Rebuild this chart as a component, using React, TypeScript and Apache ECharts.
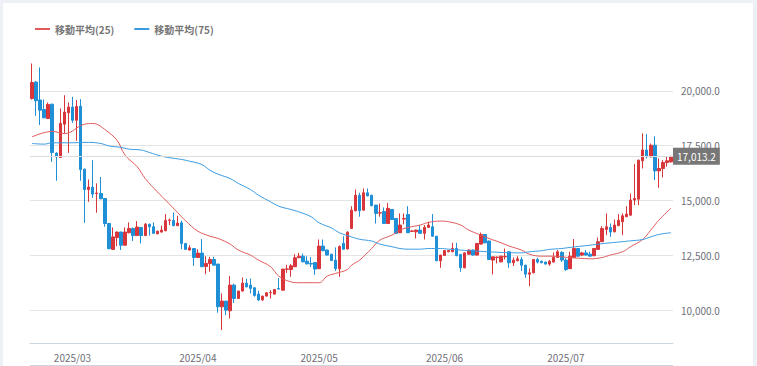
import React, { useEffect, useRef } from 'react';
import * as echarts from 'echarts';

// First trading day shown (2025/02/19); one candle per calendar day
const firstDay = { y: 2025, m: 2, d: 19 };

const opens = [
  19650, 20400, 19580, 19150, 18740, 19390, 17160, 16960, 18480, 19000,
  19260, 18660, 19300, 16430, 15500, 15610, 15320, 15320, 15090, 13950,
  12770, 13310, 13560, 12960, 13530, 13720, 13400, 13770, 13400, 13920,
  13800, 13480, 13560, 13620, 14090, 14090, 13850, 13980, 13040, 12740,
  12810, 12400, 12600, 11990, 12130, 12310, 12100, 10150, 10410, 9970,
  11140, 10530, 10870, 11230, 11140, 11020, 10730, 10470, 10640, 10790,
  10730, 10990, 10910, 11860, 11850, 11980, 12390, 12460, 12230, 12130,
  12170, 11890, 12920, 12740, 12550, 12280, 11880, 13050, 12790, 13720,
  14530, 15240, 14560, 15350, 15240, 14790, 14430, 14500, 13950, 14590,
  14180, 13530, 14150, 14360, 13590, 13570, 13650, 13500, 13770, 13800,
  13370, 12250, 12490, 12660, 12660, 12810, 12540, 11930, 12550, 12740,
  12510, 13010, 13450, 13150, 12280, 12400, 12200, 12430, 12660, 12160,
  12250, 12310, 12050, 11640, 11700, 12310, 12230, 12190, 12100, 12190,
  12400, 12630, 12280, 11890, 12400, 12810, 12510, 12610, 12550, 12480,
  12770, 13120, 13680, 13770, 13570, 13850, 14030, 14260, 14330, 15020,
  15060, 16810, 17300, 16990, 17520, 16350, 16460, 16730, 16760,
];

const closes = [
  20380, 19550, 19120, 18770, 19380, 17190, 16990, 18510, 19030, 19260,
  18660, 19290, 16410, 15500, 15610, 15290, 15340, 15080, 13950, 12800,
  13340, 13560, 12960, 13560, 13720, 13400, 13790, 13400, 13920, 13800,
  13500, 13600, 13650, 14090, 14110, 13850, 13970, 13040, 12770, 12840,
  12400, 12600, 11980, 12130, 12310, 12050, 10150, 10410, 10000, 11140,
  10530, 10870, 11230, 11060, 10990, 10670, 10460, 10640, 10790, 10800,
  10940, 10960, 11870, 11880, 12020, 12390, 12460, 12200, 12110, 12100,
  11870, 12920, 12710, 12510, 12260, 11890, 12900, 12780, 13550, 14560,
  15240, 14530, 15350, 15210, 14760, 14410, 14440, 13950, 14640, 14130,
  13500, 13880, 14180, 13530, 13610, 13650, 13500, 13770, 13880, 13370,
  12250, 12510, 12720, 12720, 12810, 12480, 11930, 12610, 12740, 12510,
  13040, 13450, 13070, 12310, 12430, 12420, 12460, 12450, 12160, 12280,
  12340, 12050, 11640, 11700, 12310, 12190, 12160, 12100, 12230, 12400,
  12660, 12280, 11850, 12460, 12810, 12460, 12610, 12510, 12460, 12810,
  13120, 13720, 13800, 13560, 13880, 14100, 14300, 14380, 15020, 15090,
  16840, 17300, 16990, 17520, 16350, 16460, 16730, 16810, 17013.2,
];

const lows = [
  19600, 18860, 18440, 18750, 18710, 16760, 15900, 16940, 18060, 17170,
  18540, 17720, 15900, 13980, 14940, 15120, 14440, 15050, 13800, 12780,
  12740, 12920, 12740, 12940, 13500, 13150, 13380, 13040, 13380, 13400,
  13480, 13460, 13540, 13600, 13880, 13830, 13830, 12780, 12740, 12720,
  12020, 12380, 11960, 11640, 11750, 12030, 9880, 9090, 9770, 9620,
  10330, 10510, 10850, 11040, 10760, 10610, 10430, 10410, 10620, 10530,
  10710, 10940, 10880, 11700, 11520, 11960, 12370, 12180, 12090, 11960,
  11610, 11870, 12690, 12490, 12240, 11790, 11520, 12760, 12770, 13700,
  14510, 14260, 14540, 15190, 14740, 13950, 14260, 13930, 13930, 14110,
  13480, 13510, 13910, 13510, 13570, 13270, 13480, 13220, 13750, 13350,
  12230, 11930, 12470, 12640, 12640, 12460, 11750, 11910, 12530, 12490,
  12490, 12990, 13050, 12290, 11630, 12130, 12180, 12310, 11930, 12010,
  12230, 11780, 11470, 11090, 11680, 12130, 12140, 12080, 12020, 12170,
  12380, 12200, 11790, 11870, 12380, 12440, 12460, 12490, 12440, 12460,
  12750, 13100, 13420, 13340, 13550, 13830, 13420, 14240, 14310, 14790,
  14790, 16460, 16920, 16970, 15930, 15580, 16050, 16540, 16740,
];

const highs = [
  21250, 20450, 21070, 19610, 19470, 19420, 17200, 19200, 19800, 19470,
  19730, 19580, 19620, 16450, 15960, 16840, 15780, 16070, 15100, 13970,
  13770, 13580, 13580, 13770, 14000, 13770, 14060, 13790, 13970, 13940,
  14000, 13620, 13850, 14380, 14180, 14450, 14300, 14080, 13060, 12960,
  12830, 12780, 13240, 12460, 12430, 12430, 12110, 10760, 10420, 11550,
  11200, 10880, 11490, 11430, 11440, 11030, 10880, 10650, 10820, 10910,
  10950, 11460, 11880, 12070, 12100, 12550, 12610, 12580, 12460, 12420,
  12190, 13220, 13220, 12760, 12570, 12860, 12950, 13370, 13600, 14740,
  15500, 15350, 15550, 15550, 15260, 14800, 14860, 14680, 14890, 14610,
  14200, 14410, 14410, 14740, 13650, 13670, 13880, 13880, 14030, 14380,
  13390, 12520, 12740, 12740, 13070, 13070, 12560, 12630, 12760, 12760,
  13060, 13540, 13470, 13170, 12450, 12440, 12480, 12810, 12690, 12400,
  12460, 12430, 12070, 11900, 12330, 12390, 12250, 12210, 12280, 12630,
  12740, 12690, 12360, 12660, 13240, 12830, 12660, 12740, 12660, 12830,
  13310, 13830, 14410, 13950, 14130, 14380, 14410, 14740, 15320, 16660,
  16860, 18060, 18030, 17600, 17930, 16920, 16840, 17020, 17030,
];

// Moving averages (candle index -> value)
const ma25Index = [
  0, 5, 8, 13, 15, 16, 18, 21, 23, 26, 28, 31, 33, 36, 38, 41, 44, 46, 49, 51,
  54, 56, 59, 61, 64, 66, 69, 71, 73, 75, 78, 79, 81, 84, 86, 89, 91, 93, 96, 98,
  101, 103, 106, 108, 111, 113, 116, 118, 121, 123, 126, 128, 131, 133, 136, 138, 141, 143, 146, 148,
  151, 153, 155, 158,
];
const ma25Values = [
  17900, 18150, 18050, 18480, 18510, 18480, 18240, 17750, 17070, 16540,
  16000, 15390, 15020, 14450, 14070, 13600, 13370, 13270, 13010, 12740,
  12510, 12280, 11980, 11550, 11290, 11250, 11250, 11250, 11550, 11670,
  11850, 12050, 12280, 12810, 13190, 13420, 13650, 13770, 13880, 14000,
  14060, 14030, 13880, 13650, 13420, 13270, 13070, 12920, 12740, 12550,
  12460, 12460, 12430, 12390, 12360, 12340, 12400, 12510, 12660, 12890,
  13220, 13650, 14100, 14650,
];

const ma75Index = [
  0, 3, 5, 9, 14, 17, 19, 22, 24, 27, 29, 32, 34, 37, 39, 42, 44, 46, 49, 51,
  54, 56, 59, 61, 64, 66, 69, 71, 74, 76, 79, 81, 84, 86, 89, 91, 93, 96, 98, 101,
  103, 106, 108, 111, 113, 116, 118, 121, 123, 126, 128, 131, 133, 136, 138, 140, 143, 146, 148, 151,
  153, 155, 158,
];
const ma75Values = [
  17600, 17570, 17630, 17630, 17650, 17600, 17490, 17420, 17340, 17300,
  17190, 17020, 16950, 16870, 16790, 16640, 16380, 16200, 16000, 15780,
  15500, 15240, 14940, 14740, 14590, 14480, 14260, 13980, 13750, 13530,
  13340, 13230, 13150, 13010, 12890, 12810, 12780, 12780, 12810, 12810,
  12780, 12740, 12710, 12680, 12660, 12630, 12620, 12610, 12660, 12710,
  12770, 12810, 12860, 12920, 12960, 13010, 13070, 13120, 13160, 13220,
  13340, 13450, 13530,
];

const seriesNames = ['移動平均(25)', '移動平均(75)'];
const yTicks = { min: 8500, max: 22000, step: 2500 };

const UP = '#d9363b';
const DOWN = '#1f8fd6';
const MA25_COLOR = '#e05a5a';
const MA75_COLOR = '#3a9be0';

const pad = (n: number) => (n < 10 ? '0' + n : '' + n);
const fmt1 = (v: number) =>
  v.toLocaleString('en-US', { minimumFractionDigits: 1, maximumFractionDigits: 1 });

function buildDates(n: number): string[] {
  const out: string[] = [];
  for (let i = 0; i < n; i++) {
    const d = new Date(Date.UTC(firstDay.y, firstDay.m - 1, firstDay.d + i));
    out.push(`${d.getUTCFullYear()}/${pad(d.getUTCMonth() + 1)}/${pad(d.getUTCDate())}`);
  }
  return out;
}

export default function App() {
  const ref = useRef<HTMLDivElement>(null);

  useEffect(() => {
    if (!ref.current) return;
    const chart = echarts.init(ref.current, null, { renderer: 'svg' });
    const dates = buildDates(opens.length);
    const candles = opens.map((o, i) => [o, closes[i], lows[i], highs[i]]);
    const lastClose = closes[closes.length - 1];
    const isMonthStart = (_i: number, v: string) => v.endsWith('/01');
    const font = '"Noto Sans CJK JP", "Noto Sans", sans-serif';

    chart.setOption({
      animation: false,
      textStyle: { fontFamily: font },
      legend: {
        left: 27,
        top: 16,
        icon: 'rect',
        itemWidth: 15,
        itemHeight: 2,
        itemGap: 20,
        data: seriesNames,
        textStyle: { color: '#757575', fontSize: 10, fontWeight: 'bold', fontFamily: font },
      },
      grid: { left: 27, right: 80, top: 44, bottom: 23 },
      xAxis: {
        type: 'category',
        data: dates,
        boundaryGap: true,
        axisLine: { lineStyle: { color: '#ccd5e1' } },
        axisTick: {
          alignWithLabel: true,
          length: 9,
          interval: isMonthStart,
          lineStyle: { color: '#ccd5e1' },
        },
        axisLabel: {
          interval: isMonthStart,
          formatter: (v: string) => v.slice(0, 7),
          color: '#6e7079',
          fontSize: 10,
          margin: 9,
          fontFamily: font,
        },
        splitLine: { show: false },
      },
      yAxis: {
        type: 'value',
        position: 'right',
        min: yTicks.min,
        max: yTicks.max,
        minInterval: yTicks.step,
        maxInterval: yTicks.step,
        axisLine: { show: false },
        axisTick: { show: false },
        axisLabel: {
          showMinLabel: false,
          showMaxLabel: false,
          margin: 8,
          fontSize: 10,
          color: '#6e7079',
          fontFamily: font,
          formatter: (v: number) => fmt1(v),
        },
        splitLine: {
          show: true,
          showMinLine: false,
          showMaxLine: false,
          lineStyle: { color: '#e4e4e4', width: 1 },
        },
      },
      graphic: [
        {
          type: 'line',
          shape: { x1: 27, y1: 362.5, x2: 670, y2: 362.5 },
          style: { stroke: '#ccd5e1', lineWidth: 1 },
          silent: true,
        },
      ],
      series: [
        {
          type: 'candlestick',
          name: 'price',
          data: candles,
          barWidth: 3,
          itemStyle: {
            color: UP,
            color0: DOWN,
            borderColor: UP,
            borderColor0: DOWN,
            borderWidth: 1,
          },
          markLine: {
            silent: true,
            symbol: 'none',
            animation: false,
            lineStyle: { color: '#dcdcdc', type: 'solid', width: 1 },
            label: {
              position: 'end',
              distance: 0,
              formatter: (p: any) => fmt1(p.value),
              backgroundColor: '#777',
              color: '#fff',
              padding: [4, 4, 3, 4],
              fontSize: 10,
              fontFamily: font,
            },
            emphasis: { disabled: true },
            data: [{ yAxis: lastClose }],
          },
        },
        {
          type: 'line',
          name: seriesNames[0],
          data: ma25Index.map((idx, k) => [idx, ma25Values[k]]),
          smooth: 0.4,
          showSymbol: false,
          symbol: 'none',
          lineStyle: { color: MA25_COLOR, width: 1 },
          itemStyle: { color: MA25_COLOR },
          z: 3,
        },
        {
          type: 'line',
          name: seriesNames[1],
          data: ma75Index.map((idx, k) => [idx, ma75Values[k]]),
          smooth: 0.4,
          showSymbol: false,
          symbol: 'none',
          lineStyle: { color: MA75_COLOR, width: 1 },
          itemStyle: { color: MA75_COLOR },
          z: 3,
        },
      ],
    });
    return () => chart.dispose();
  }, []);

  return (
    <div style={{ position: 'fixed', left: 0, top: 0, width: 757, height: 366, background: '#edf0f5', overflow: 'hidden' }}>
      <div
        ref={ref}
        style={{ position: 'absolute', left: 3, top: 3, width: 750, height: 363, background: '#fff' }}
      />
    </div>
  );
}
